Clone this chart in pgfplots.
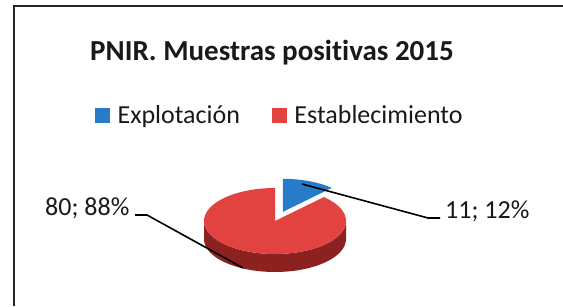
\documentclass[border=0pt]{standalone}
\usepackage{fontspec}
\setmainfont{Carlito}[Ligatures={NoCommon}]
\usepackage{pgfplots}
\pgfplotsset{compat=1.18}
\usepgfplotslibrary{fillbetween}
\definecolor{cblue}{RGB}{38,124,200}
\definecolor{cred}{RGB}{226,66,64}
\definecolor{cside}{RGB}{140,34,32}
\definecolor{ctext}{RGB}{25,25,25}
\begin{document}
\begin{tikzpicture}
% data
\def\vA{11}% Explotacion
\def\vB{80}% Establecimiento
\pgfmathsetmacro{\angA}{360*\vA/(\vA+\vB)}
\pgfmathsetmacro{\angM}{\angA/2}
\def\cx{275}\def\cy{221}\def\rx{71}\def\ry{33}\def\dd{18}
\pgfmathsetmacro{\bx}{\cx+0.3*\rx*sin(\angM)}
\pgfmathsetmacro{\by}{\cy-0.3*\ry*cos(\angM)}
\begin{axis}[
  width=563pt, height=306pt, scale only axis,
  xmin=0, xmax=563, ymin=0, ymax=306, y dir=reverse,
  hide axis,
  legend columns=2,
  legend style={at={(axis cs:92,115)}, anchor=west, draw=none, fill=none,
    font=\fontsize{26}{30}\selectfont, text=ctext,
    nodes={inner sep=0pt},
    /tikz/every odd column/.append style={column sep=8pt},
    /tikz/every even column/.append style={column sep=32pt}},
]
% border
\addplot[line width=2pt, color=black!85, forget plot] coordinates {(14,306) (14,6) (563,6)};
% blue slice (exploded)
\addplot[fill=cblue, draw=none, domain=0:\angA, samples=60, variable=\t, forget plot]
  ({\bx+\rx*sin(\t)},{\by-\ry*cos(\t)}) -- (axis cs:\bx,\by) -- cycle;
% red side
\addplot[draw=none, name path=up, domain=90:270, samples=80, variable=\t, forget plot]
  ({\cx+\rx*sin(\t)},{\cy-\ry*cos(\t)});
\addplot[draw=none, name path=lo, domain=90:270, samples=80, variable=\t, forget plot]
  ({\cx+\rx*sin(\t)},{\cy-\ry*cos(\t)+\dd});
\addplot[fill=cside, draw=none, forget plot] fill between[of=up and lo];
% red top
\addplot[fill=cred, draw=none, domain=\angA:360, samples=150, variable=\t, forget plot]
  ({\cx+\rx*sin(\t)},{\cy-\ry*cos(\t)}) -- (axis cs:\cx,\cy) -- cycle;
% leader lines
\addplot[black, line width=1.6pt, forget plot] coordinates {(135,215) (147,215) (243,268)};
\addplot[black, line width=1.6pt, forget plot] coordinates {(302,184) (428,218) (440,218)};
% labels
\node[anchor=base west, inner sep=0pt, text=ctext, font=\fontsize{26}{30}\selectfont] at (axis cs:45,215) {80; 88\%};
\node[anchor=base west, inner sep=0pt, text=ctext, font=\fontsize{26}{30}\selectfont] at (axis cs:445,218) {11; 12\%};
% title
\node[anchor=base, inner sep=0pt, text=ctext, font=\fontsize{29}{34}\selectfont\bfseries] at (axis cs:272,61) {PNIR. Muestras positivas 2015};
% legend
\addlegendimage{legend image code/.code={\fill[cblue] (0pt,-7pt) rectangle (14pt,7pt);}}
\addlegendentry{Explotación}
\addlegendimage{legend image code/.code={\fill[cred] (0pt,-7pt) rectangle (14pt,7pt);}}
\addlegendentry{Establecimiento}
\end{axis}
\pgfresetboundingbox
\path (current axis.south west) rectangle (current axis.north east);
\end{tikzpicture}
\end{document}
